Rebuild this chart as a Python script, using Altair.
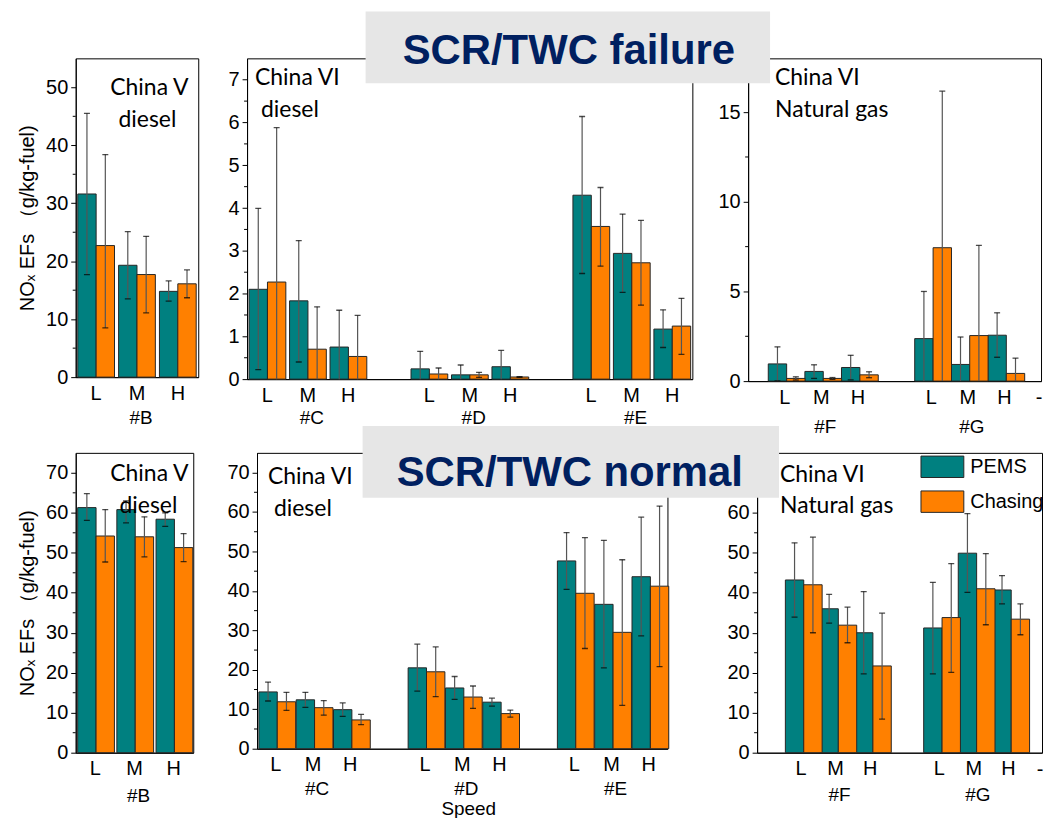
import altair as alt
import pandas as pd

SPEEDS = ["L", "M", "H"]
SOURCES = ["PEMS", "Chasing"]
COLORS = ["#008080", "#FF8000"]

# ---------- SCR/TWC failure: mean NOx EF, (low, high) error limits per speed L/M/H ----------
fail_B_pems = [31.6, 19.3, 14.8]
fail_B_pems_err = [(17.7, 45.5), (13.5, 25.1), (13.1, 16.6)]
fail_B_chase = [22.7, 17.7, 16.1]
fail_B_chase_err = [(8.5, 38.4), (11.1, 24.3), (13.7, 18.5)]

fail_C_pems = [2.10, 1.83, 0.75]
fail_C_pems_err = [(0.22, 3.99), (0.40, 3.24), (-0.11, 1.61)]
fail_C_chase = [2.27, 0.70, 0.53]
fail_C_chase_err = [(-1.34, 5.88), (-0.29, 1.69), (-0.43, 1.49)]

fail_D_pems = [0.24, 0.10, 0.29]
fail_D_pems_err = [(-0.17, 0.65), (-0.13, 0.33), (-0.09, 0.67)]
fail_D_chase = [0.12, 0.10, 0.05]
fail_D_chase_err = [(-0.02, 0.26), (0.04, 0.16), (0.04, 0.06)]

fail_E_pems = [4.30, 2.94, 1.17]
fail_E_pems_err = [(2.47, 6.14), (2.03, 3.86), (0.74, 1.62)]
fail_E_chase = [3.57, 2.72, 1.24]
fail_E_chase_err = [(2.64, 4.48), (1.73, 3.71), (0.58, 1.89)]

fail_F_pems = [0.96, 0.54, 0.76]
fail_F_pems_err = [(0.01, 1.91), (0.15, 0.91), (0.07, 1.44)]
fail_F_chase = [0.15, 0.15, 0.35]
fail_F_chase_err = [(0.06, 0.24), (0.10, 0.20), (0.19, 0.52)]

fail_G_pems = [2.37, 0.93, 2.56]
fail_G_pems_err = [(-0.26, 5.00), (-0.60, 2.46), (1.33, 3.81)]
fail_G_chase = [7.44, 2.54, 0.43]
fail_G_chase_err = [(-1.29, 16.17), (-2.49, 7.57), (-0.42, 1.28)]

# ---------- SCR/TWC normal ----------
norm_B_pems = [61.3, 60.8, 58.4]
norm_B_pems_err = [(58.1, 64.8), (57.5, 63.0), (56.6, 60.0)]
norm_B_chase = [54.2, 54.0, 51.3]
norm_B_chase_err = [(47.7, 60.8), (49.0, 59.0), (47.8, 54.8)]

norm_C_pems = [14.4, 12.4, 9.9]
norm_C_pems_err = [(12.1, 16.9), (10.5, 14.3), (8.2, 11.6)]
norm_C_chase = [11.9, 10.4, 7.3]
norm_C_chase_err = [(9.7, 14.3), (8.5, 12.2), (6.1, 8.7)]

norm_D_pems = [20.5, 15.4, 11.8]
norm_D_pems_err = [(14.6, 26.5), (12.5, 18.3), (10.8, 12.8)]
norm_D_chase = [19.5, 13.1, 8.9]
norm_D_chase_err = [(13.2, 25.8), (10.2, 15.9), (8.0, 9.8)]

norm_E_pems = [47.6, 36.6, 43.6]
norm_E_pems_err = [(40.4, 54.8), (20.5, 52.8), (28.6, 58.7)]
norm_E_chase = [39.4, 29.5, 41.2]
norm_E_chase_err = [(25.4, 53.5), (11.0, 47.9), (20.8, 61.5)]

norm_F_pems = [43.2, 36.0, 30.0]
norm_F_pems_err = [(33.9, 52.5), (32.4, 39.6), (19.7, 40.3)]
norm_F_chase = [42.0, 31.9, 21.7]
norm_F_chase_err = [(30.0, 53.9), (27.5, 36.4), (8.4, 34.9)]

norm_G_pems = [31.2, 49.9, 40.7]
norm_G_pems_err = [(19.7, 42.6), (40.1, 59.8), (37.2, 44.3)]
norm_G_chase = [33.8, 41.0, 33.4]
norm_G_chase_err = [(20.1, 47.3), (32.0, 49.8), (29.5, 37.2)]

SANS = "Liberation Sans"
NOTE_FONT = "Lato"
Y_TITLE = "NOₓ EFs （g/kg-fuel)"


def records(vehicle, pems, pems_err, chase, chase_err):
    rows = []
    for src, means, errs in (("PEMS", pems, pems_err), ("Chasing", chase, chase_err)):
        for sp, m, (lo, hi) in zip(SPEEDS, means, errs):
            rows.append({"key": f"{vehicle}|{sp}", "source": src,
                         "value": m, "lo": lo, "hi": hi})
    return rows


def x_domain(vehicles):
    dom = []
    for i, v in enumerate(vehicles):
        if i:
            dom.append(f"gap{i}")
        dom += [f"{v}|{s}" for s in SPEEDS]
    return dom


# wide rectangular legend swatches, rows packed closely together
legend_cfg = alt.Legend(
    title=None, orient="none", legendX=848, legendY=388,
    symbolType="M-1,-0.5H1V0.5H-1Z", symbolSize=1849,
    symbolStrokeColor="#262626", symbolStrokeWidth=1, symbolOpacity=1,
    labelFont=SANS, labelFontSize=20, labelColor="black", labelOffset=6,
    rowPadding=-19.5, padding=0)


def panel(rows, vehicles, ymax, yticks, minor, width, height, pad_outer,
          align=0.5, notes=(), group_dy=41, ytitle=None, xtitle=None,
          xtitle_x=None, banner=None, dash=False):
    df = pd.DataFrame(rows)
    domain = x_domain(vehicles)
    xscale = alt.Scale(domain=domain, paddingInner=0.1,
                       paddingOuter=pad_outer, align=align)
    xaxis_kw = dict(labelAngle=0, ticks=False, labelFont=SANS, labelFontSize=20,
                    labelPadding=6, labelColor="black", domainColor="black",
                    labelExpr="indexof(datum.label, '|') >= 0 ? split(datum.label, '|')[1] : ''")
    if xtitle:
        xaxis_kw.update(titleFont=SANS, titleFontSize=19, titleFontWeight="normal",
                        titlePadding=25, titleColor="black")
        if xtitle_x is not None:
            xaxis_kw.update(titleX=xtitle_x)
    xaxis = alt.Axis(**xaxis_kw)
    x = alt.X("key:N", scale=xscale, axis=xaxis, title=xtitle)
    xo = alt.XOffset("source:N", scale=alt.Scale(domain=SOURCES))

    yscale = alt.Scale(domain=[0, ymax], nice=False, zero=True)
    yaxis_kw = dict(values=yticks, grid=False, tickSize=5, tickColor="black",
                    domainColor="black", labelFont=SANS, labelFontSize=20,
                    labelColor="black", labelPadding=3)
    if ytitle:
        yaxis_kw.update(titleFont=SANS, titleFontSize=20, titleFontWeight="normal",
                        titleColor="black", titlePadding=8)
    yaxis = alt.Axis(**yaxis_kw)

    def yenc(field):
        return alt.Y(field, scale=yscale, axis=yaxis, title=ytitle)

    base = alt.Chart(df)
    color = alt.Color("source:N", scale=alt.Scale(domain=SOURCES, range=COLORS),
                      legend=legend_cfg)
    bars = base.mark_bar(stroke="#262626", strokeWidth=1).encode(
        x=x, xOffset=xo, y=yenc("value:Q"), color=color)
    whisk = base.mark_rule(color="#555555", strokeWidth=1.2, clip=True).encode(
        x=x, xOffset=xo, y=yenc("lo:Q"), y2="hi:Q")
    cap_hi = base.mark_tick(color="black", size=6, thickness=1.3, clip=True).encode(
        x=x, xOffset=xo, y=yenc("hi:Q"))
    cap_lo = base.mark_tick(color="black", size=6, thickness=1.3, clip=True).encode(
        x=x, xOffset=xo, y=yenc("lo:Q"))

    minor_ticks = alt.Chart(pd.DataFrame({"v": minor})).mark_rule(
        color="black", strokeWidth=1).encode(
        y=yenc("v:Q"), x=alt.value(-3), x2=alt.value(0))

    grp = pd.DataFrame({"key": [f"{v}|M" for v in vehicles],
                        "g": [f"#{v}" for v in vehicles]})
    groups = alt.Chart(grp).mark_text(font=SANS, fontSize=19, color="black",
                                      baseline="middle", dx=4).encode(
        x=x, y=alt.value(height + group_dy), text="g:N")

    layers = [bars, whisk, cap_hi, cap_lo, minor_ticks, groups]

    for text, nx, ny, anchor in notes:
        layers.append(
            alt.Chart(pd.DataFrame({"t": [text]})).mark_text(
                font=NOTE_FONT, fontSize=23, color="black", align=anchor,
                baseline="alphabetic").encode(
                x=alt.value(nx), y=alt.value(ny), text="t:N"))

    if dash:
        layers.append(
            alt.Chart(pd.DataFrame({"t": ["-"]})).mark_text(
                font=SANS, fontSize=20, color="black", baseline="middle").encode(
                x=alt.value(width - 2), y=alt.value(height + 17), text="t:N"))

    if banner:
        label, (bx0, bx1, by0, by1), (tx, ty) = banner
        bdf = pd.DataFrame({"t": [label]})
        layers.append(alt.Chart(bdf).mark_rect(color="#E6E6E6").encode(
            x=alt.value(bx0), x2=alt.value(bx1), y=alt.value(by0), y2=alt.value(by1)))
        layers.append(alt.Chart(bdf).mark_text(
            font=SANS, fontSize=42, fontWeight="bold", color="#002060",
            align="center", baseline="alphabetic").encode(
            x=alt.value(tx), y=alt.value(ty), text="t:N"))

    return alt.layer(*layers).properties(width=width, height=height)


# ---------------- top row: SCR/TWC failure ----------------
p1 = panel(records("B", fail_B_pems, fail_B_pems_err, fail_B_chase, fail_B_chase_err),
           ["B"], 55, [0, 10, 20, 30, 40, 50], [5, 15, 25, 35, 45],
           123, 320, 0.05, ytitle=Y_TITLE,
           notes=[("China V", 74, 37, "center"), ("diesel", 72, 69, "center")])

p2 = panel(records("C", fail_C_pems, fail_C_pems_err, fail_C_chase, fail_C_chase_err)
           + records("D", fail_D_pems, fail_D_pems_err, fail_D_chase, fail_D_chase_err)
           + records("E", fail_E_pems, fail_E_pems_err, fail_E_chase, fail_E_chase_err),
           ["C", "D", "E"], 7.5, [0, 1, 2, 3, 4, 5, 6, 7],
           [0.5, 1.5, 2.5, 3.5, 4.5, 5.5, 6.5], 447, 322, 0.05, group_dy=39,
           notes=[("China VI", 8, 27, "left"), ("diesel", 14, 59, "left")])

p3 = panel(records("F", fail_F_pems, fail_F_pems_err, fail_F_chase, fail_F_chase_err)
           + records("G", fail_G_pems, fail_G_pems_err, fail_G_chase, fail_G_chase_err),
           ["F", "G"], 18, [0, 5, 10, 15], [2.5, 7.5, 12.5, 17.5],
           294, 324, 0.55, group_dy=46, dash=True,
           notes=[("China VI", 27, 27, "left"), ("Natural gas", 27, 59, "left")],
           banner=("SCR/TWC failure", (-384, 22, -47, 25), (-180, 6)))

# ---------------- bottom row: SCR/TWC normal ----------------
q1 = panel(records("B", norm_B_pems, norm_B_pems_err, norm_B_chase, norm_B_chase_err),
           ["B"], 75, [0, 10, 20, 30, 40, 50, 60, 70], [5, 15, 25, 35, 45, 55, 65],
           118, 301, 0.05, ytitle=Y_TITLE, group_dy=43,
           notes=[("China V", 74, 28, "center"), ("diesel", 73, 60, "center")])

q2 = panel(records("C", norm_C_pems, norm_C_pems_err, norm_C_chase, norm_C_chase_err)
           + records("D", norm_D_pems, norm_D_pems_err, norm_D_chase, norm_D_chase_err)
           + records("E", norm_E_pems, norm_E_pems_err, norm_E_chase, norm_E_chase_err),
           ["C", "D", "E"], 75, [0, 10, 20, 30, 40, 50, 60, 70],
           [5, 15, 25, 35, 45, 55, 65], 412, 297, 0.05, group_dy=40,
           xtitle="Speed", xtitle_x=212,
           notes=[("China VI", 11, 31, "left"), ("diesel", 17, 63, "left")])

q3 = panel(records("F", norm_F_pems, norm_F_pems_err, norm_F_chase, norm_F_chase_err)
           + records("G", norm_G_pems, norm_G_pems_err, norm_G_chase, norm_G_chase_err),
           ["F", "G"], 75, [0, 10, 20, 30, 40, 50, 60, 70],
           [5, 15, 25, 35, 45, 55, 65], 286, 301, 0.67, align=0.61, group_dy=42,
           dash=True,
           notes=[("China VI", 23, 29, "left"), ("Natural gas", 23, 60, "left")],
           banner=("SCR/TWC normal", (-396, 22, -27, 45), (-188, 33)))

row1 = alt.hconcat(p1, alt.hconcat(p2, p3, spacing=56, bounds="flush"),
                   spacing=49, bounds="flush")
row2 = alt.hconcat(q1, alt.hconcat(q2, q3, spacing=90, bounds="flush"),
                   spacing=64, bounds="flush")

chart = alt.vconcat(row1, row2, spacing=396, bounds="flush").properties(
    padding={"left": 17, "top": 9, "right": 2, "bottom": 4},
    background="white",
).configure_view(stroke="black", strokeWidth=1)

chart.save("out.html", embed_options={"renderer": "svg", "actions": False})
